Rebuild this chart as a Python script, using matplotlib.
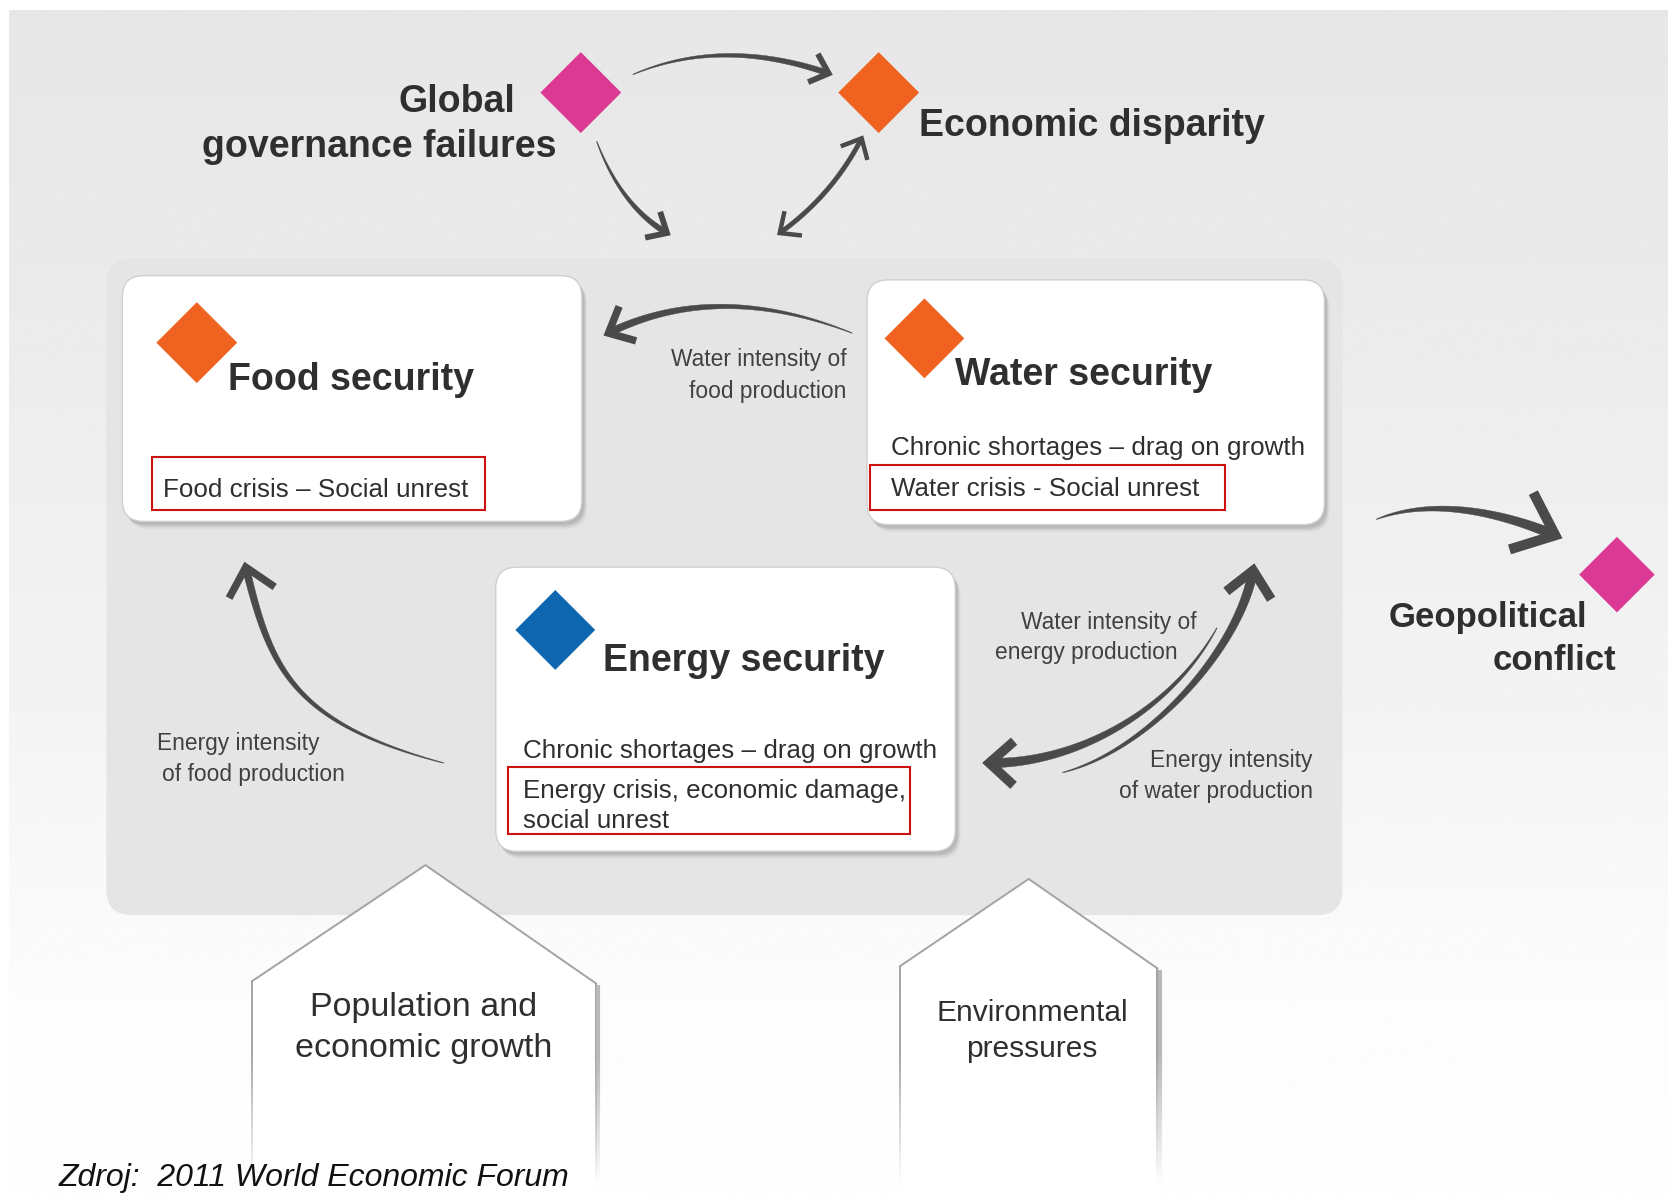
import numpy as np
import matplotlib
matplotlib.use("Agg")
import matplotlib.pyplot as plt
from matplotlib.patches import FancyBboxPatch, Polygon, Rectangle
from matplotlib.collections import LineCollection

# ---------------- content ----------------
node_titles = ["Food security", "Water security", "Energy security"]
node_colors = ["#f0621f", "#f0621f", "#0e67b0"]
chronic_text = "Chronic shortages \u2013 drag on growth"
crisis_texts = ["Food crisis \u2013 Social unrest",
                "Water crisis - Social unrest",
                "Energy crisis, economic damage,\nsocial unrest"]
outer_risks = ["Global\ngovernance failures", "Economic disparity", "Geopolitical\nconflict"]
outer_colors = ["#db3994", "#f0621f", "#db3994"]
link_labels = ["Water intensity of\nfood production",
               "Energy intensity\nof food production",
               "Water intensity of\nenergy production",
               "Energy intensity\nof water production"]
drivers = ["Population and\neconomic growth", "Environmental\npressures"]
source = "Zdroj:  2011 World Economic Forum"

# ---------------- canvas ----------------
W, H = 1568, 1123
S = 1668 / 1568
PT = S * 0.72          # points per layout unit
FONT = "Liberation Sans"
ARROW = "#4a4a4a"
TXT = "#2f2f2f"

fig = plt.figure(figsize=(16.68, 11.95), dpi=100, facecolor="white")
ax = fig.add_axes([0, 0, 1, 1])
ax.set_xlim(0, W)
ax.set_ylim(H, 0)
ax.axis("off")

# background gradient
ys = np.linspace(10, H, 400)
vals = np.interp(ys, [10, 250, 500, 700, 850, 950, 1123],
                 [0.906, 0.918, 0.94, 0.96, 0.978, 0.99, 0.995])
ax.imshow(np.repeat(vals[:, None], 2, axis=1), extent=(8, W, H, 10), cmap="gray",
          vmin=0, vmax=1, aspect="auto", interpolation="bilinear", zorder=0)

# main panel
ax.add_patch(FancyBboxPatch((100, 243), 1162, 617, boxstyle="round,pad=0,rounding_size=24",
                            fc="#e5e5e5", ec="none", zorder=1))


def txt(x, y, s, size, ha="left", weight="normal", color=TXT, style="normal", z=10):
    base = y + 0.358 * size / PT
    ax.text(x, base, s, fontsize=size, ha=ha, va="baseline", fontweight=weight,
            color=color, fontstyle=style, family=FONT, zorder=z)


def diamond(cx, cy, h, color):
    ax.add_patch(Polygon([(cx, cy - h), (cx + h, cy), (cx, cy + h), (cx - h, cy)],
                         closed=True, fc=color, ec="none", zorder=8))


def box(x0, y0, w, h):
    for d, c, a in [(7, "#9a9a9a", 0.10), (5.5, "#9a9a9a", 0.18), (4, "#a0a0a0", 0.35), (2.5, "#b0b0b0", 0.5)]:
        ax.add_patch(FancyBboxPatch((x0 + d * 0.7, y0 + d), w, h,
                                    boxstyle="round,pad=0,rounding_size=20",
                                    fc=c, ec="none", alpha=a, zorder=3))
    ax.add_patch(FancyBboxPatch((x0, y0), w, h, boxstyle="round,pad=0,rounding_size=20",
                                fc="white", ec="#cfcfcf", lw=1.0, zorder=4))


def redbox(x0, y0, x1, y1):
    ax.add_patch(Rectangle((x0, y0), x1 - x0, y1 - y0, fc="none", ec="#cc1111",
                           lw=1.5, zorder=9))


def bezier(P, n=160):
    P = np.asarray(P, float)
    t = np.linspace(0, 1, n)[:, None]
    if len(P) == 3:
        B = (1 - t) ** 2 * P[0] + 2 * (1 - t) * t * P[1] + t ** 2 * P[2]
        dB = 2 * (1 - t) * (P[1] - P[0]) + 2 * t * (P[2] - P[1])
    else:
        B = ((1 - t) ** 3 * P[0] + 3 * (1 - t) ** 2 * t * P[1]
             + 3 * (1 - t) * t ** 2 * P[2] + t ** 3 * P[3])
        dB = (3 * (1 - t) ** 2 * (P[1] - P[0]) + 6 * (1 - t) * t * (P[2] - P[1])
              + 3 * t ** 2 * (P[3] - P[2]))
    return B, dB


def rot(v, a):
    a = np.deg2rad(a)
    return np.array([v[0] * np.cos(a) - v[1] * np.sin(a), v[0] * np.sin(a) + v[1] * np.cos(a)])


def head(tip, d, L, wid, ang):
    back = -d
    a1 = tip + rot(back, ang) * L
    a2 = tip + rot(back, -ang) * L
    ax.plot([a1[0], tip[0], a2[0]], [a1[1], tip[1], a2[1]], color=ARROW, lw=wid * PT,
            solid_joinstyle="miter", solid_capstyle="butt", zorder=7)


def arrow(P, w0, w1, L, ang=42, both=False, gamma=0.8):
    B, dB = bezier(P)
    T = dB / np.linalg.norm(dB, axis=1)[:, None]
    N = np.stack([-T[:, 1], T[:, 0]], 1)
    t = np.linspace(0, 1, len(B))
    w = w0 + (w1 - w0) * t ** gamma
    left = B + N * w[:, None] / 2
    right = B - N * w[:, None] / 2
    ax.add_patch(Polygon(np.vstack([left, right[::-1]]), closed=True, fc=ARROW,
                         ec=ARROW, lw=0.3, zorder=7))
    head(B[-1], T[-1], L, w1, ang)
    if both:
        head(B[0], -T[0], L, w0, ang)


# ---------------- bottom drivers (pentagons) ----------------
def pentagon(apex, lx, rx, sy, sy2):
    ax.add_patch(Polygon([(lx, H + 5), (lx, sy), apex, (rx, sy2), (rx, H + 5)],
                         closed=True, fc="white", ec="none", zorder=2))
    ax.plot([lx, apex[0], rx], [sy, apex[1], sy2], color="#a3a3a3", lw=1.4, zorder=2.5)
    for x, y0, lw, col in [(lx, sy, 1.3, (0.62, 0.62, 0.62)), (rx, sy2, 1.3, (0.6, 0.6, 0.6)),
                           (rx + 2.5, sy2 + 2, 3.0, (0.72, 0.72, 0.72))]:
        yv = np.linspace(y0, H, 80)
        al = np.clip(1 - (yv - 990) / 120, 0, 1)
        segs = [[(x, yv[i]), (x, yv[i + 1])] for i in range(len(yv) - 1)]
        cols = [(*col, al[i]) for i in range(len(yv) - 1)]
        ax.add_collection(LineCollection(segs, colors=cols, linewidths=lw, zorder=2.5))


pentagon((400, 813), 237, 560, 922, 924)
pentagon((967, 826), 846, 1088, 908, 910)

d1 = drivers[0].split("\n")
txt(398, 943, d1[0], 24.5, ha="center")
txt(398, 982, d1[1], 24.5, ha="center")
d2 = drivers[1].split("\n")
txt(970, 949, d2[0], 21.5, ha="center")
txt(970, 983, d2[1], 21.5, ha="center")

# ---------------- node boxes ----------------
box(115, 259, 432, 231)    # food
box(815, 263, 430, 230)    # water
box(466, 533, 432, 267)    # energy

diamond(185, 322, 38, node_colors[0])
diamond(869, 318, 37.5, node_colors[1])
diamond(522, 592, 37.5, node_colors[2])

txt(214, 354, node_titles[0], 27, weight="bold")
txt(898, 349, node_titles[1], 27, weight="bold")
txt(567, 618, node_titles[2], 27, weight="bold")

redbox(143, 429, 456, 479)
txt(153, 458, crisis_texts[0], 18.7)

txt(838, 419, chronic_text, 18.7)
redbox(818, 437, 1152, 479)
txt(838, 457, crisis_texts[1], 18.7)

txt(492, 704, chronic_text, 18.7)
redbox(478, 721, 855, 784)
e = crisis_texts[2].split("\n")
txt(492, 741, e[0], 18.7)
txt(492, 769, e[1], 18.7)

# ---------------- outer risks ----------------
diamond(546, 87, 38, outer_colors[0])
diamond(826, 87, 38, outer_colors[1])
diamond(1520, 540, 35.5, outer_colors[2])
g = outer_risks[0].split("\n")
txt(484, 93, g[0], 27, ha="right", weight="bold")
txt(523, 135, g[1], 27, ha="right", weight="bold")
txt(864, 115, outer_risks[1], 27, weight="bold")
gc = outer_risks[2].split("\n")
txt(1305, 578, gc[0], 25, weight="bold")
txt(1403, 618, gc[1], 25, weight="bold")

# ---------------- link labels ----------------
LC = "#404040"
l0 = link_labels[0].split("\n")
txt(796, 336, l0[0], 16.4, ha="right", color=LC)
txt(796, 366, l0[1], 16.4, ha="right", color=LC)
l1 = link_labels[1].split("\n")
txt(148, 697, l1[0], 16.4, color=LC)
txt(152, 726, l1[1], 16.4, color=LC)
l2 = link_labels[2].split("\n")
txt(1125, 583, l2[0], 16.4, ha="right", color=LC)
txt(1107, 612, l2[1], 16.4, ha="right", color=LC)
l3 = link_labels[3].split("\n")
txt(1234, 713, l3[0], 16.4, ha="right", color=LC)
txt(1234, 742, l3[1], 16.4, ha="right", color=LC)

# ---------------- arrows ----------------
arrow([(595, 70), (679, 34.5), (779, 69)], 0.5, 5.5, 21)
arrow([(561, 133), (584, 194), (627, 219)], 0.5, 5.5, 21)
arrow([(733, 219), (782.5, 183.5), (810, 130)], 4.2, 4.2, 21, both=True)
arrow([(801, 313), (673.5, 263), (572, 313)], 0.5, 7, 27)
arrow([(417, 717), (273, 679), (253.5, 625.5), (231, 533)], 0.5, 7, 33)
arrow([(999, 726), (1080, 705), (1165, 610), (1178, 536)], 0.5, 9, 32)
arrow([(1144, 590), (1100, 670), (1010, 718), (930, 717)], 0.5, 9, 31)
arrow([(1294, 488), (1340, 470), (1400, 477), (1462, 503)], 0.5, 9.5, 45, ang=40)

# ---------------- source ----------------
txt(55, 1104, source, 23, style="italic", color="#111111")

fig.savefig("out.png", dpi=100, facecolor="white")
